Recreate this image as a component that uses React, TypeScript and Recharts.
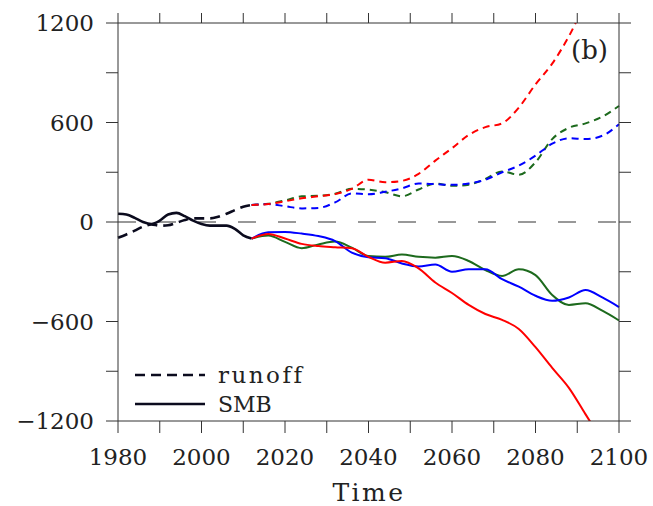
import React from "react";
import { LineChart, Line, XAxis, YAxis, ReferenceLine } from "recharts";

// years
const histYears = [1980, 1982, 1984, 1986, 1988, 1990, 1992, 1994, 1996, 1998, 2000, 2002, 2004, 2006, 2008, 2010, 2012];
const futYears = [2012, 2016, 2020, 2024, 2028, 2032, 2036, 2040, 2044, 2048, 2052, 2056, 2060, 2064, 2068, 2072, 2076, 2080, 2084, 2088, 2092, 2096, 2100];

// historical (black)
const histSmb = [50, 45, 25, 0, -12, 8, 45, 55, 35, 8, -12, -22, -22, -22, -42, -80, -100];
const histRunoff = [-95, -75, -52, -28, -15, -22, -20, -5, 12, 22, 22, 22, 32, 50, 72, 92, 103];

// scenarios
const redRunoff = [103, 108, 125, 143, 155, 168, 200, 255, 240, 248, 290, 370, 445, 525, 572, 595, 690, 830, 955, 1120, 1320, 1480, 1640];
const greenRunoff = [103, 110, 130, 155, 158, 170, 200, 195, 180, 155, 196, 232, 218, 225, 260, 305, 285, 360, 500, 568, 595, 635, 700];
const blueRunoff = [103, 108, 95, 82, 85, 118, 172, 168, 182, 203, 232, 228, 224, 232, 255, 300, 340, 400, 472, 505, 500, 520, 590];

const redSmb = [-100, -72, -100, -132, -145, -152, -158, -210, -245, -235, -280, -365, -428, -500, -555, -590, -645, -755, -880, -1000, -1160, -1320, -1480];
const greenSmb = [-100, -82, -120, -158, -135, -118, -155, -205, -210, -196, -210, -215, -205, -235, -290, -325, -285, -320, -440, -500, -490, -535, -594];
const blueSmb = [-100, -62, -60, -70, -85, -115, -185, -212, -218, -250, -268, -257, -300, -285, -285, -345, -390, -445, -475, -455, -410, -455, -513];

const xTicks = [1980, 1990, 2000, 2010, 2020, 2030, 2040, 2050, 2060, 2070, 2080, 2090, 2100];
const yTicks = [-1200, -900, -600, -300, 0, 300, 600, 900, 1200];

const toRows = (years: number[], vals: number[]) => years.map((year, i) => ({ year, v: vals[i] }));

const FONT = "'DejaVu Serif', serif";
const AXIS = "#333";

export default function App() {
  const tickStyle = { fontFamily: FONT, fontSize: 23, fill: "#222" };
  const lines = [
    { data: toRows(histYears, histRunoff), color: "#0b0b1e", dash: "10 6", w: 2.6 },
    { data: toRows(histYears, histSmb), color: "#0b0b1e", dash: undefined, w: 2.6 },
    { data: toRows(futYears, greenRunoff), color: "#1d6a1d", dash: "7 5", w: 2 },
    { data: toRows(futYears, blueRunoff), color: "#0000ff", dash: "7 5", w: 2 },
    { data: toRows(futYears, redRunoff), color: "#ff0000", dash: "7 5", w: 2 },
    { data: toRows(futYears, greenSmb), color: "#1d6a1d", dash: undefined, w: 2 },
    { data: toRows(futYears, blueSmb), color: "#0000ff", dash: undefined, w: 2 },
    { data: toRows(futYears, redSmb), color: "#ff0000", dash: undefined, w: 2 },
  ];

  return (
    <div style={{ position: "absolute", left: 0, top: 0, width: 653, height: 506, background: "#fff" }}>
      <LineChart width={653} height={506} margin={{ top: 0, right: 0, bottom: 0, left: 0 }}>
        <XAxis
          xAxisId="b"
          type="number"
          dataKey="year"
          domain={[1980, 2100]}
          ticks={xTicks}
          height={85}
          tickSize={12}
          tickMargin={16}
          tick={tickStyle}
          stroke={AXIS}
          tickFormatter={(v: number) => (v % 20 === 0 ? String(v) : "")}
          allowDuplicatedCategory={false}
        />
        <XAxis
          xAxisId="t"
          orientation="top"
          type="number"
          dataKey="year"
          domain={[1980, 2100]}
          ticks={xTicks}
          interval={0}
          height={23}
          tickSize={10}
          tickFormatter={() => ""}
          stroke={AXIS}
        />
        <YAxis
          yAxisId="l"
          type="number"
          domain={[-1200, 1200]}
          allowDataOverflow
          ticks={yTicks}
          interval={0}
          width={118}
          tickSize={12}
          tickMargin={12}
          tick={tickStyle}
          stroke={AXIS}
          tickFormatter={(v: number) => (v % 600 === 0 ? String(v).replace("-", "\u2212") : "")}
        />
        <YAxis
          yAxisId="r"
          orientation="right"
          type="number"
          domain={[-1200, 1200]}
          allowDataOverflow
          ticks={yTicks}
          interval={0}
          width={34}
          tickSize={12}
          tickFormatter={() => ""}
          stroke={AXIS}
        />
        <ReferenceLine xAxisId="b" yAxisId="l" y={0} stroke="#777" strokeWidth={1.3} strokeDasharray="18 22" />
        {/* invisible series so the top / right frame axes get their ticks */}
        <Line
          xAxisId="t"
          yAxisId="r"
          data={toRows(histYears, histSmb)}
          dataKey="v"
          stroke="none"
          dot={false}
          activeDot={false}
          legendType="none"
          isAnimationActive={false}
        />
        {lines.map((l, i) => (
          <Line
            key={i}
            xAxisId="b"
            yAxisId="l"
            data={l.data}
            dataKey="v"
            type="monotone"
            stroke={l.color}
            strokeWidth={l.w}
            strokeDasharray={l.dash}
            dot={false}
            activeDot={false}
            isAnimationActive={false}
          />
        ))}
      </LineChart>
      <svg width={653} height={506} style={{ position: "absolute", left: 0, top: 0, pointerEvents: "none" }}>
        <line x1={135} x2={205} y1={375} y2={375} stroke="#0b0b1e" strokeWidth={2.4} strokeDasharray="10 6" />
        <line x1={135} x2={205} y1={404} y2={404} stroke="#0b0b1e" strokeWidth={2.4} />
        <text x={218} y={383} fontFamily={FONT} fontSize={23} letterSpacing={2.5} fill="#222">runoff</text>
        <text x={218} y={412} fontFamily={FONT} fontSize={22} fill="#222">SMB</text>
        <text x={571} y={59} fontFamily={FONT} fontSize={26} fill="#222">(b)</text>
        <text x={369} y={501} textAnchor="middle" fontFamily={FONT} fontSize={25} letterSpacing={2.5} fill="#222">Time</text>
      </svg>
    </div>
  );
}
